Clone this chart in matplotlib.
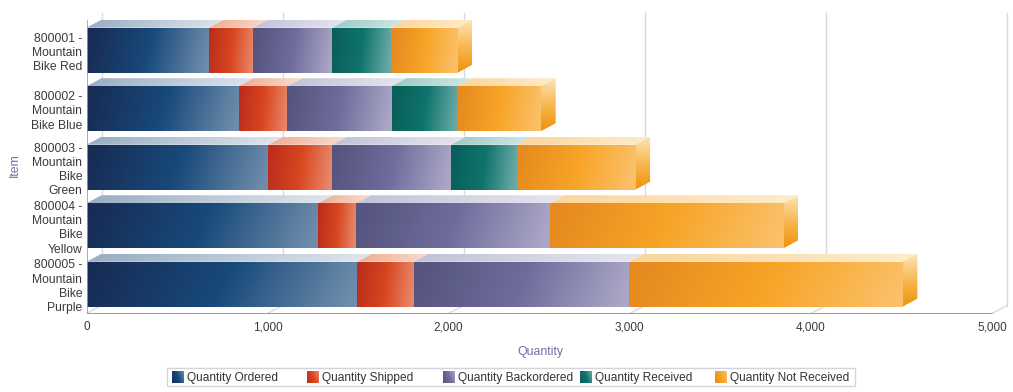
import numpy as np
import matplotlib
matplotlib.use("Agg")
import matplotlib.pyplot as plt
from matplotlib.colors import LinearSegmentedColormap
from matplotlib.patches import Polygon, Rectangle

plt.rcParams['font.family'] = ['Liberation Sans', 'DejaVu Sans']

# ---------------- data ----------------
items = ["800001 -\nMountain\nBike Red",
         "800002 -\nMountain\nBike Blue",
         "800003 -\nMountain\nBike\nGreen",
         "800004 -\nMountain\nBike\nYellow",
         "800005 -\nMountain\nBike\nPurple"]
series_names = ["Quantity Ordered", "Quantity Shipped", "Quantity Backordered",
                "Quantity Received", "Quantity Not Received"]
qty_ordered = [676, 840, 1004, 1280, 1495]
qty_shipped = [243, 269, 353, 208, 312]
qty_backordered = [438, 576, 656, 1071, 1189]
qty_received = [323, 363, 363, 0, 0]
qty_not_received = [368, 460, 653, 1289, 1509]
x_ticks = [0, 1000, 2000, 3000, 4000, 5000]
x_tick_labels = ["0", "1,000", "2,000", "3,000", "4,000", "5,000"]

series = [qty_ordered, qty_shipped, qty_backordered, qty_received, qty_not_received]

# gradient colours (front dark->light, top light)
front_cols = [["#172d55", "#17497a", "#6e8cab"],
              ["#bb2e1c", "#d8461f", "#e8876a"],
              ["#55557f", "#6e6c9c", "#aaa6c6"],
              ["#0a5f5a", "#0f736c", "#6aa9a5"],
              ["#e68a20", "#f7a426", "#fbc068"]]
top_cols = [["#98aec2", "#dfe6ee"],
            ["#f0ab92", "#fadccf"],
            ["#c2c2d8", "#e6e6f0"],
            ["#9cc9c4", "#d2e9e6"],
            ["#fbd59a", "#feeccc"]]
side_cols = ["#fde2b4", "#f7b850", "#f0920f"]

W, H = 1013, 392
fig = plt.figure(figsize=(W / 100, H / 100), dpi=100)
fig.patch.set_facecolor("white")

# axes geometry in pixels
px_left, px_right = 86.5, 1010.0
px_x5000 = 992.0
px_top, px_bottom = 5.0, 313.5
slot = 58.5
ax = fig.add_axes([px_left / W, 1 - px_bottom / H,
                   (px_right - px_left) / W, (px_bottom - px_top) / H])
xmax = 5000 * (px_right - px_left) / (px_x5000 - px_left)
ymin_top = 4.5 - (px_bottom - px_top) / slot
ax.set_xlim(0, xmax)
ax.set_ylim(4.5, ymin_top)
ax.set_autoscale_on(False)
ax.set_facecolor("none")
for s in ax.spines.values():
    s.set_visible(False)

px_per_unit = (px_x5000 - px_left) / 5000
dx = 15 / px_per_unit
dy = 8 / slot
bh = 45 / slot

grid_col = "#d9d9e6"
# back wall grid lines and floor diagonals
for v in x_ticks:
    ax.plot([v + dx, v + dx], [-0.5 - dy, 4.5 - dy], color=grid_col, lw=1.0, zorder=0)
    ax.plot([v, v + dx], [4.5, 4.5 - dy], color=grid_col, lw=1.0, zorder=0)
# left front axis and bottom axis
ax.plot([0, 0], [-0.5, 4.5], color="#9a9ac4", lw=1.2, zorder=5)
ax.plot([0, 5000], [4.5, 4.5], color="#8484b8", lw=1.2, zorder=5)


def grad_image(x0, x1, y0, y1, cmap, direction="h", clip=None, z=2):
    n = 128
    xx, yy = np.meshgrid(np.linspace(0, 1, n), np.linspace(0, 1, 32))
    if direction == "h":
        arr = np.clip(xx + 0.08 * (yy - 0.5), 0, 1)
    else:
        arr = yy
    im = ax.imshow(arr, extent=(x0, x1, y1, y0), aspect="auto", cmap=cmap,
                   interpolation="bilinear", zorder=z, origin="upper", vmin=0, vmax=1)
    if clip is not None:
        ax.add_patch(clip)
        clip.set_visible(False)
        im.set_clip_path(clip)
    return im


front_cmaps = [LinearSegmentedColormap.from_list("f%d" % i, c) for i, c in enumerate(front_cols)]
top_cmaps = [LinearSegmentedColormap.from_list("t%d" % i, c) for i, c in enumerate(top_cols)]
side_cmap = LinearSegmentedColormap.from_list("side", side_cols)

for i in range(len(items)):
    left = 0.0
    y = i
    yt, yb = y - bh / 2, y + bh / 2
    last_right = None
    for k, vals in enumerate(series):
        w = vals[i]
        if w <= 0:
            continue
        right = left + w
        # front face
        grad_image(left, right, yt, yb, front_cmaps[k], z=3)
        # top face
        poly = Polygon([(left, yt), (right, yt), (right + dx, yt - dy), (left + dx, yt - dy)],
                       closed=True, transform=ax.transData)
        grad_image(left, right + dx, yt - dy, yt, top_cmaps[k], clip=poly, z=2)
        last_right = right
        left = right
    # side face at the end
    R = last_right
    sp = Polygon([(R, yt), (R + dx, yt - dy), (R + dx, yb - dy), (R, yb)],
                 closed=True, transform=ax.transData)
    grad_image(R, R + dx, yt - dy, yb, side_cmap, direction="v", clip=sp, z=2)

# ticks
ax.set_xticks(x_ticks)
ax.set_xticklabels(x_tick_labels, fontsize=8.5, color="#3a3a3a")
ax.set_yticks(range(len(items)))
ax.set_yticklabels(items, fontsize=8.7, color="#3a3a3a", linespacing=1.25)
ax.tick_params(axis="x", length=0, pad=5.5)
ax.tick_params(axis="y", length=0, pad=3)

# axis titles
fig.text(540 / W, 1 - 352 / H, "Quantity", ha="center", va="center",
         fontsize=8.8, color="#6e6eaa")
fig.text(15 / W, 1 - 165 / H, "Item", ha="center", va="center", rotation=90,
         fontsize=8.8, color="#6e6eaa")

# legend (manual, equally spaced entries)
fx0, fx1, fy0, fy1 = 166.7, 855.0, 368.0, 385.5
fig.add_artist(Rectangle((fx0 / W, 1 - fy1 / H), (fx1 - fx0) / W, (fy1 - fy0) / H,
                         transform=fig.transFigure, facecolor="white",
                         edgecolor="#d4d4dc", lw=1.0, zorder=-5))
patch_x = [171.7, 306.7, 443.3, 580.0, 715.0]
for k, name in enumerate(series_names):
    pax = fig.add_axes([patch_x[k] / W, 1 - 383.3 / H, 11.6 / W, 12.3 / H])
    pax.set_zorder(10)
    xx, yy = np.meshgrid(np.linspace(0, 1, 16), np.linspace(0, 1, 16))
    pax.imshow(np.clip(0.7 * xx + 0.3 * (1 - yy), 0, 1), cmap=front_cmaps[k],
               aspect="auto", interpolation="bilinear", vmin=0, vmax=1)
    pax.set_axis_off()
    fig.text((patch_x[k] + 15) / W, 1 - 377.5 / H, name, ha="left", va="center",
             fontsize=8.6, color="#333333", zorder=11)

fig.savefig("out.png", dpi=100, facecolor="white")
